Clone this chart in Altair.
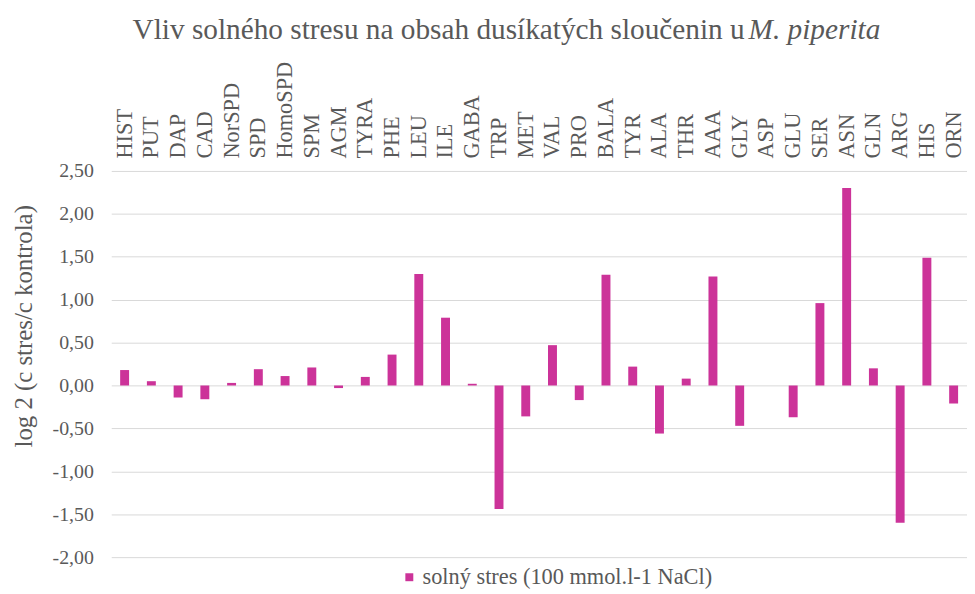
import altair as alt
import pandas as pd

categories = ["HIST", "PUT", "DAP", "CAD", "NorSPD", "SPD", "HomoSPD", "SPM", "AGM", "TYRA",
              "PHE", "LEU", "ILE", "GABA", "TRP", "MET", "VAL", "PRO", "BALA", "TYR",
              "ALA", "THR", "AAA", "GLY", "ASP", "GLU", "SER", "ASN", "GLN", "ARG", "HIS", "ORN"]
values = [0.18, 0.05, -0.14, -0.16, 0.03, 0.19, 0.11, 0.21, -0.03, 0.10,
          0.36, 1.30, 0.79, 0.02, -1.44, -0.36, 0.47, -0.17, 1.29, 0.22,
          -0.56, 0.08, 1.27, -0.47, 0.00, -0.37, 0.96, 2.30, 0.20, -1.60, 1.49, -0.21]
series_name = "solný stres (100 mmol.l-1 NaCl)"
title_main = "Vliv solného stresu na obsah dusíkatých sloučenin u"
title_italic = "M. piperita"
y_title = "log 2 (c stres/c kontrola)"
y_ticks = [-2.0, -1.5, -1.0, -0.5, 0.0, 0.5, 1.0, 1.5, 2.0, 2.5]

df = pd.DataFrame({"cat": categories, "val": values, "series": series_name})

FONT = "'Liberation Serif', 'Times New Roman', serif"
GRAY = "#595959"
PINK = "#CC3399"

bars = alt.Chart(df).mark_bar(size=9).encode(
    x=alt.X("cat:N", sort=categories,
            scale=alt.Scale(paddingInner=0, paddingOuter=0),
            axis=alt.Axis(orient="top", labelAngle=-90, title=None, ticks=False, domain=False,
                          grid=False, labelFont=FONT, labelFontSize=22.5, labelColor=GRAY,
                          labelPadding=13, labelLimit=0)),
    y=alt.Y("val:Q", scale=alt.Scale(domain=[-2.0, 2.5], nice=False, zero=False),
            axis=alt.Axis(values=y_ticks,
                          labelExpr="(datum.value < 0 ? '-' : '') + replace(format(abs(datum.value), '.2f'), '.', ',')",
                          ticks=False, domain=False, grid=True, gridColor="#d9d9d9", gridWidth=1,
                          labelFont=FONT, labelFontSize=20, labelColor=GRAY, labelPadding=18,
                          title=y_title, titleFont=FONT, titleFontSize=25, titleColor=GRAY,
                          titleFontWeight="normal", titleAngle=-90, titleX=-88, titleY=156,
                          titleAlign="center", titleBaseline="middle")),
    color=alt.Color("series:N", scale=alt.Scale(domain=[series_name], range=[PINK]),
                    legend=alt.Legend(title=None, orient="none", legendX=289, legendY=398,
                                      symbolType="square", symbolSize=64, symbolStrokeWidth=0,
                                      labelFont=FONT, labelFontSize=22.5, labelColor=GRAY,
                                      labelOffset=2, labelLimit=0))
)

t1 = alt.Chart(pd.DataFrame({"t": [title_main]})).mark_text(
    font=FONT, fontSize=29.5, color=GRAY, align="right", baseline="alphabetic"
).encode(text="t:N", x=alt.value(638), y=alt.value(-133))

t2 = alt.Chart(pd.DataFrame({"t": [title_italic]})).mark_text(
    font=FONT, fontSize=29.5, color=GRAY, align="left", baseline="alphabetic", fontStyle="italic"
).encode(text="t:N", x=alt.value(642), y=alt.value(-133))

chart = alt.layer(bars, t1, t2).properties(
    width=862, height=389,
    padding={"left": 104, "top": 162, "right": 0, "bottom": 35},
    autosize=alt.AutoSizeParams(type="none"),
    background="white",
).configure_view(stroke=None)

chart.save("out.html", embed_options={"renderer": "svg", "actions": False})
